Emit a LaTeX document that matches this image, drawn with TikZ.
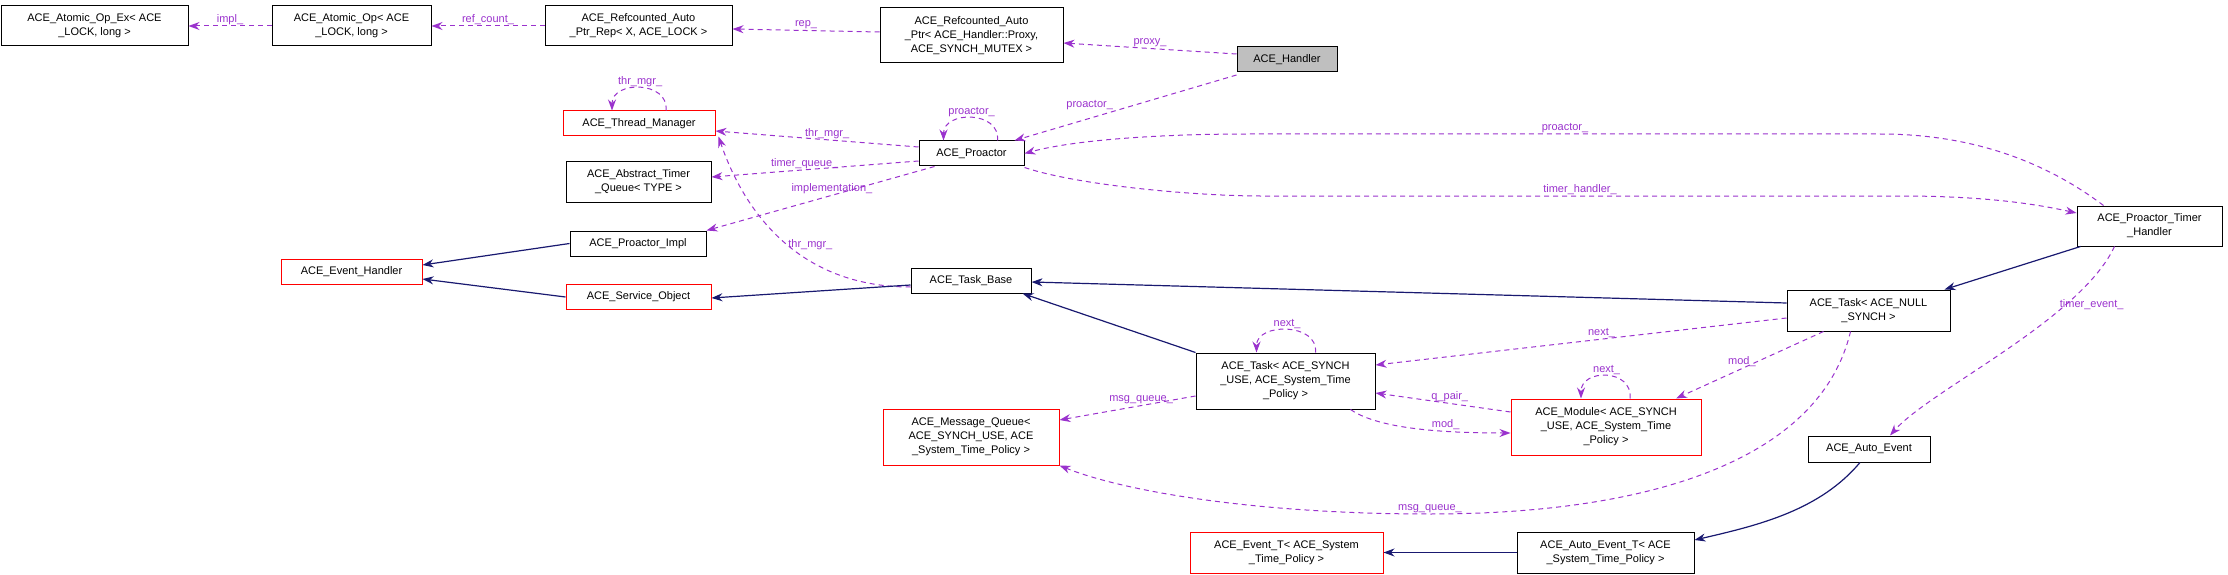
\documentclass[tikz,border=0pt]{standalone}
\usepackage{fontspec}
\setmainfont{Liberation Sans}
\usetikzlibrary{arrows.meta}
\definecolor{refcol}{HTML}{9A32CD}
\definecolor{inhcol}{HTML}{191970}
\tikzset{
	cls/.style={draw=black, line width=1pt, fill=white, align=center, inner sep=0pt,
		font=\fontsize{11}{14}\selectfont},
	trunc/.style={cls, draw=red},
	ref/.style={refcol, line width=1pt, dash pattern=on 5pt off 4pt, -{Stealth[length=11pt,width=8pt]}},
	inh/.style={inhcol, line width=1.2pt, -{Stealth[length=11pt,width=8pt]}},
	lbl/.style={font=\fontsize{11}{14}\selectfont, inner sep=1pt}
}
\begin{document}
\begin{tikzpicture}[x=1pt, y=-1pt]
	\useasboundingbox (0,0) rectangle (2228,575);
	
	%Klassen oben
	\node[cls, minimum width=187pt, minimum height=40pt] (opex) at (94.5,26) {ACE\_Atomic\_Op\_Ex< ACE\\\_LOCK, long >};
	\node[cls, minimum width=159pt, minimum height=40pt] (op) at (351.5,26) {ACE\_Atomic\_Op< ACE\\\_LOCK, long >};
	\node[cls, minimum width=187pt, minimum height=40pt] (rep) at (638.5,26) {ACE\_Refcounted\_Auto\\\_Ptr\_Rep< X, ACE\_LOCK >};
	\node[cls, minimum width=183pt, minimum height=55pt] (aptr) at (971.5,35.5) {ACE\_Refcounted\_Auto\\\_Ptr< ACE\_Handler::Proxy,\\ACE\_SYNCH\_MUTEX >};
	\node[cls, fill={rgb,255:red,191;green,191;blue,191}, minimum width=100pt, minimum height=25pt] (handler) at (1287,59.5) {ACE\_Handler};
	
	%Proactor
	\node[trunc, minimum width=152pt, minimum height=25pt] (thrmgr) at (639,123.5) {ACE\_Thread\_Manager};
	\node[cls, minimum width=105pt, minimum height=25pt] (pro) at (971.5,153.5) {ACE\_Proactor};
	\node[cls, minimum width=145pt, minimum height=40pt] (tq) at (638.5,182) {ACE\_Abstract\_Timer\\\_Queue< TYPE >};
	\node[cls, minimum width=136pt, minimum height=25pt] (impl) at (638,243.5) {ACE\_Proactor\_Impl};
	\node[trunc, minimum width=141pt, minimum height=25pt] (evh) at (351.5,271.5) {ACE\_Event\_Handler};
	\node[trunc, minimum width=145pt, minimum height=25pt] (svc) at (638.5,297) {ACE\_Service\_Object};
	\node[cls, minimum width=120pt, minimum height=25pt] (tbase) at (971,280.5) {ACE\_Task\_Base};
	\node[cls, minimum width=145pt, minimum height=40pt] (pth) at (2149.5,226) {ACE\_Proactor\_Timer\\\_Handler};
	
	%Tasks
	\node[cls, minimum width=163pt, minimum height=41pt] (tnull) at (1868.5,310.5) {ACE\_Task< ACE\_NULL\\\_SYNCH >};
	\node[cls, minimum width=179pt, minimum height=56pt] (tsync) at (1285.5,381) {ACE\_Task< ACE\_SYNCH\\\_USE, ACE\_System\_Time\\\_Policy >};
	\node[trunc, minimum width=176pt, minimum height=56pt] (mq) at (971,437) {ACE\_Message\_Queue<\\ACE\_SYNCH\_USE, ACE\\\_System\_Time\_Policy >};
	\node[trunc, minimum width=190pt, minimum height=56pt] (mod) at (1606,427) {ACE\_Module< ACE\_SYNCH\\\_USE, ACE\_System\_Time\\\_Policy >};
	\node[cls, minimum width=122pt, minimum height=26pt] (aev) at (1869,449) {ACE\_Auto\_Event};
	\node[trunc, minimum width=193pt, minimum height=41pt] (evt) at (1286.5,552.5) {ACE\_Event\_T< ACE\_System\\\_Time\_Policy >};
	\node[cls, minimum width=177pt, minimum height=41pt] (aevt) at (1605.5,552.5) {ACE\_Auto\_Event\_T< ACE\\\_System\_Time\_Policy >};
	
	%Referenzen oben
	\draw[ref] (op.west) -- node[lbl, above] {impl\_} (opex.east);
	\draw[ref] (rep.west) -- node[lbl, above] {ref\_count\_} (op.east);
	\draw[ref] (aptr.west |- 0,32) -- node[lbl, above] {rep\_} (rep.east |- 0,29);
	\draw[ref] (handler.west |- 0,54) -- node[lbl, above] {proxy\_} (aptr.east |- 0,43);
	\draw[ref] (handler.west |- 0,75) -- node[lbl, above left, pos=0.55] {proactor\_} ([xshift=-10pt]pro.north east);
	
	%Proactor
	\draw[ref] ([xshift=26pt]pro.north) .. controls +(3,-30) and +(0,-30) .. node[lbl, above] {proactor\_} ([xshift=-28pt]pro.north);
	\draw[ref] ([xshift=27pt]thrmgr.north) .. controls +(3,-30) and +(0,-30) .. node[lbl, above] {thr\_mgr\_} ([xshift=-27pt]thrmgr.north);
	\draw[ref] (pro.west |- 0,147) -- node[lbl, above, pos=0.45] {thr\_mgr\_} (thrmgr.east |- 0,131);
	\draw[ref] (pro.west |- 0,161) -- node[lbl, above, pos=0.55] {timer\_queue\_} (tq.east |- 0,177);
	\draw[ref] ([xshift=16pt]pro.south west) -- node[lbl, above, pos=0.45] {implementation\_} (impl.north east);
	\draw[ref] (tbase.west |- 0,287) .. controls (790,287) and (740,200) .. node[lbl, right, pos=0.45] {thr\_mgr\_} ([xshift=3pt]thrmgr.south east);
	\draw[ref] ([xshift=-46pt]pth.north) .. controls (2030,150) and (1950,134) .. (1880,134) -- node[lbl, above] {proactor\_} (1250,134) .. controls (1150,134) and (1070,141) .. (pro.east);
	\draw[ref] ([yshift=-1pt]pro.south east) .. controls (1080,186) and (1200,196) .. (1260,196) -- node[lbl, above] {timer\_handler\_} (1900,196) .. controls (1990,196) and (2040,205) .. (pth.west |- 0,213);
	\draw[ref] ([xshift=-35pt]pth.south) .. controls (2080,320) and (1930,390) .. node[lbl, above right, pos=0.3] {timer\_event\_} ([xshift=21pt]aev.north);
	
	%Vererbung
	\draw[inh] (impl.west) -- (evh.east |- 0,265);
	\draw[inh] (svc.west) -- (evh.east |- 0,279);
	\draw[inh] (tbase.west |- 0,285) -- (svc.east |- 0,298);
	\draw[inh] (tnull.west |- 0,303) -- (tbase.east |- 0,282);
	\draw[inh] (tsync.north west) -- ([xshift=-9pt]tbase.south east);
	\draw[inh] ([xshift=4pt]pth.south west) -- ([xshift=-6pt]tnull.north east);
	\draw[inh] ([xshift=-9pt]aev.south) .. controls (1820,510) and (1760,525) .. (aevt.north east |- 0,540);
	\draw[inh] (aevt.west) -- (evt.east);
	
	%Tasks
	\draw[ref] (tnull.west |- 0,318) -- node[lbl, above, pos=0.45] {next\_} (tsync.east |- 0,365);
	\draw[ref] ([xshift=-45pt]tnull.south) -- node[lbl, left, pos=0.45] {mod\_} ([xshift=70pt]mod.north);
	\draw[ref] ([xshift=-18pt]tnull.south) .. controls (1820,460) and (1650,514) .. (1430,514) .. controls (1250,514) and (1120,490) .. node[lbl, above, pos=0.0] {msg\_queue\_} (mq.south east);
	\draw[ref] ([xshift=30pt]tsync.north) .. controls +(3,-30) and +(0,-30) .. node[lbl, above] {next\_} ([xshift=-29pt]tsync.north);
	\draw[ref] (tsync.west |- 0,396) -- node[lbl, above, pos=0.4] {msg\_queue\_} (mq.east |- 0,420);
	\draw[ref] ([xshift=-25pt]tsync.south east) .. controls (1380,430) and (1450,433) .. node[lbl, above, pos=0.65] {mod\_} (mod.west |- 0,433);
	\draw[ref] (mod.west |- 0,412) -- node[lbl, above, pos=0.45] {q\_pair\_} (tsync.east |- 0,393);
	\draw[ref] ([xshift=24pt]mod.north) .. controls +(3,-30) and +(0,-30) .. node[lbl, above] {next\_} ([xshift=-25pt]mod.north);
\end{tikzpicture}
\end{document}
